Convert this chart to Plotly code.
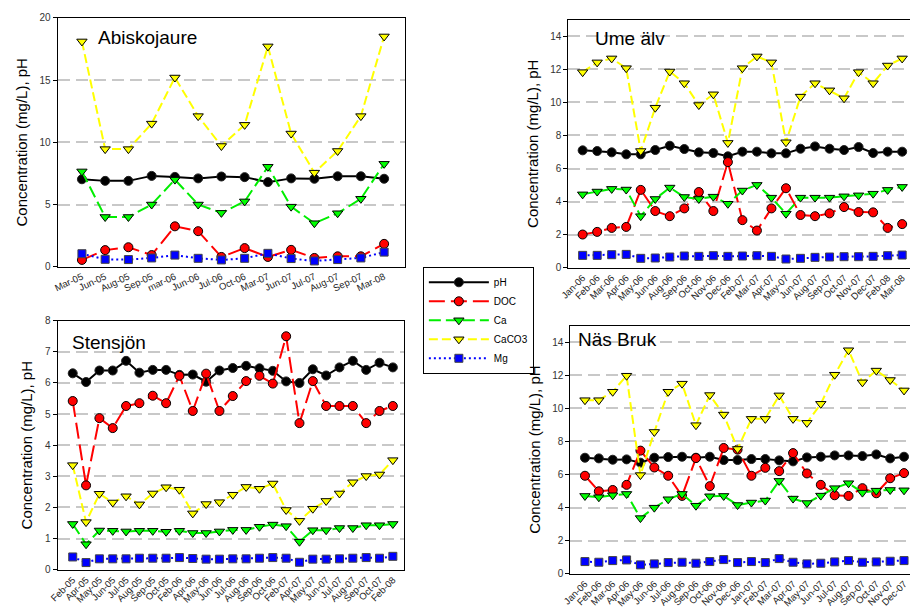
import plotly.graph_objects as go

# ---------------- DATA ----------------
abisko_dates = ["Mar-05", "Jun-05", "Aug-05", "Sep-05", "mar-06", "Jun-06", "Jul-06",
                "Oct-06", "Mar-07", "Jun-07", "Jul-07", "Aug-07", "Sep-07", "Mar-08"]
abisko_pH = [7.03, 6.9, 6.9, 7.3, 7.22, 7.1, 7.25, 7.2, 6.8, 7.1, 7.07, 7.27, 7.27, 7.07]
abisko_DOC = [0.55, 1.34, 1.57, 0.94, 3.25, 2.86, 0.79, 1.5, 0.79, 1.36, 0.71, 0.84, 0.84, 1.84]
abisko_Ca = [7.66, 4.0, 4.0, 5.0, 7.0, 5.0, 4.33, 5.25, 8.03, 4.83, 3.5, 4.3, 5.46, 8.27]
abisko_CaCO3 = [18.1, 9.45, 9.45, 11.5, 15.2, 12.1, 9.7, 11.4, 17.7, 10.7, 7.56, 9.3, 12.1, 18.5]
abisko_Mg = [1.05, 0.6, 0.58, 0.71, 0.94, 0.68, 0.55, 0.68, 1.08, 0.66, 0.47, 0.58, 0.71, 1.18]

ume_dates = ["Jan-06", "Feb-06", "Mar-06", "Apr-06", "May-06", "Jun-06", "Aug-06", "Sep-06",
             "Oct-06", "Nov-06", "Dec-06", "Feb-07", "Mar-07", "Apr-07", "May-07", "Jun-07",
             "Aug-07", "Sep-07", "Oct-07", "Nov-07", "Dec-07", "Feb-08", "Mar-08"]
ume_pH = [7.1, 7.06, 6.98, 6.86, 6.86, 7.12, 7.38, 7.18, 6.98, 6.94, 6.74, 7.02, 7.02, 6.92,
          6.92, 7.2, 7.34, 7.2, 7.12, 7.3, 6.94, 7.02, 7.02]
ume_DOC = [2.01, 2.17, 2.41, 2.47, 4.71, 3.43, 3.12, 3.59, 4.58, 3.43, 6.39, 2.88, 2.25, 3.59,
           4.81, 3.19, 3.12, 3.29, 3.67, 3.37, 3.35, 2.41, 2.64]
ume_Ca = [4.44, 4.61, 4.77, 4.73, 3.12, 4.16, 4.85, 4.28, 4.16, 4.3, 3.87, 4.67, 5.01, 4.24,
          3.27, 4.24, 4.24, 4.24, 4.32, 4.38, 4.48, 4.71, 4.89]
ume_CaCO3 = [11.83, 12.42, 12.66, 12.07, 7.06, 9.68, 11.87, 11.16, 9.84, 10.49, 7.55, 12.07,
             12.78, 12.42, 7.59, 10.35, 11.16, 10.73, 10.25, 11.83, 11.16, 12.23, 12.66]
ume_Mg = [0.75, 0.75, 0.79, 0.81, 0.57, 0.59, 0.65, 0.71, 0.69, 0.73, 0.69, 0.71, 0.73, 0.69,
          0.53, 0.57, 0.63, 0.65, 0.67, 0.67, 0.69, 0.73, 0.77]

sten_dates = ["Feb-05", "Apr-05", "May-05", "Jun-05", "Jul-05", "Aug-05", "Sep-05", "Oct-05",
              "Feb-06", "Apr-06", "May-06", "Jun-06", "Jul-06", "Aug-06", "Sep-06", "Oct-06",
              "Feb-07", "Apr-07", "May-07", "Jun-07", "Jul-07", "Aug-07", "Sep-07", "Oct-07",
              "Feb-08"]
sten_pH = [6.31, 6.03, 6.4, 6.4, 6.71, 6.33, 6.42, 6.42, 6.26, 6.27, 6.04, 6.4, 6.48, 6.55,
           6.47, 6.39, 6.05, 6.0, 6.44, 6.24, 6.5, 6.71, 6.42, 6.65, 6.5]
sten_DOC = [5.42, 2.71, 4.87, 4.55, 5.26, 5.35, 5.59, 5.35, 6.23, 5.1, 6.3, 5.1, 5.58, 6.06,
            6.23, 5.98, 7.5, 4.71, 6.06, 5.26, 5.26, 5.26, 4.71, 5.1, 5.26]
sten_Ca = [1.47, 0.82, 1.26, 1.25, 1.23, 1.25, 1.25, 1.22, 1.25, 1.18, 1.18, 1.23, 1.28, 1.28,
           1.38, 1.45, 1.4, 0.9, 1.27, 1.27, 1.34, 1.34, 1.43, 1.43, 1.47]
sten_CaCO3 = [3.36, 1.53, 2.44, 2.16, 2.36, 2.1, 2.45, 2.65, 2.57, 1.81, 2.11, 2.17, 2.41, 2.66,
              2.6, 2.77, 1.92, 1.57, 1.96, 2.21, 2.45, 2.81, 3.01, 3.06, 3.52]
sten_Mg = [0.41, 0.23, 0.35, 0.35, 0.35, 0.37, 0.37, 0.37, 0.39, 0.36, 0.34, 0.34, 0.35, 0.35,
           0.37, 0.39, 0.37, 0.24, 0.34, 0.34, 0.35, 0.37, 0.39, 0.37, 0.43]

nas_dates = ["Jan-06", "Feb-06", "Mar-06", "Apr-06", "May-06", "Jun-06", "Jul-06", "Aug-06",
             "Sep-06", "Oct-06", "Nov-06", "Dec-06", "Jan-07", "Feb-07", "Mar-07", "Apr-07",
             "May-07", "Jun-07", "Jul-07", "Aug-07", "Sep-07", "Oct-07", "Nov-07", "Dec-07"]
nas_pH = [7.01, 6.97, 6.89, 6.91, 6.71, 7.01, 7.05, 7.07, 7.01, 7.07, 6.87, 6.87, 6.93, 6.93,
          6.85, 6.79, 7.03, 7.07, 7.15, 7.15, 7.11, 7.21, 6.97, 7.07]
nas_DOC = [5.92, 4.98, 5.06, 5.37, 7.44, 6.42, 5.92, 4.7, 6.99, 5.29, 7.6, 7.5, 5.92, 6.4,
           6.2, 7.29, 6.06, 5.37, 4.74, 4.7, 5.17, 4.86, 5.77, 6.08]
nas_Ca = [4.7, 4.62, 4.74, 4.82, 3.36, 3.99, 4.5, 4.82, 4.11, 4.68, 4.7, 4.15, 4.3, 4.42,
          5.61, 4.54, 4.27, 4.72, 5.17, 5.47, 4.9, 5.02, 5.06, 5.04]
nas_CaCO3 = [10.49, 10.49, 11.0, 11.97, 5.96, 8.57, 11.0, 11.49, 8.98, 10.8, 9.62, 7.54, 9.36,
             9.36, 10.78, 9.36, 9.12, 10.27, 12.03, 13.51, 11.57, 12.28, 11.71, 11.08]
nas_Mg = [0.73, 0.69, 0.79, 0.83, 0.53, 0.59, 0.67, 0.69, 0.63, 0.73, 0.85, 0.67, 0.73, 0.67,
          0.91, 0.69, 0.59, 0.63, 0.71, 0.79, 0.69, 0.71, 0.75, 0.79]

series_names = ["pH", "DOC", "Ca", "CaCO3", "Mg"]

# ---------------- STYLE ----------------
W, H = 910, 612
FONT = "Liberation Sans, Arial, sans-serif"
styles = {
    "pH":    dict(line=dict(color="black", width=2, dash="solid"),
                  marker=dict(symbol="circle", size=9, color="black", line=dict(color="#222", width=1))),
    "DOC":   dict(line=dict(color="#ff0000", width=2, dash="16px,6px"),
                  marker=dict(symbol="circle", size=9, color="#ff0000", line=dict(color="black", width=1))),
    "Ca":    dict(line=dict(color="#00ee00", width=2, dash="12px,5px"),
                  marker=dict(symbol="triangle-down", size=9, color="#00ff00", line=dict(color="black", width=1))),
    "CaCO3": dict(line=dict(color="#ffff00", width=2, dash="9px,4px"),
                  marker=dict(symbol="triangle-down", size=9, color="#ffff00", line=dict(color="black", width=1))),
    "Mg":    dict(line=dict(color="#0000ff", width=2, dash="2px,3px"),
                  marker=dict(symbol="square", size=8, color="#0000ff", line=dict(color="#444", width=1))),
}

def px_x(a, b):
    return [a / W, b / W]

def px_y(top, bottom):
    return [1 - bottom / H, 1 - top / H]

panels = [
    dict(title="Abiskojaure", dates=abisko_dates,
         data=[abisko_pH, abisko_DOC, abisko_Ca, abisko_CaCO3, abisko_Mg],
         xd=px_x(49, 400), yd=px_y(12, 266), yr=[0, 20], dtick=5, xr=[-1.05, 13.9], angle=-25,
         tx=88, ty=32, right=True),
    dict(title="Ume älv", dates=ume_dates,
         data=[ume_pH, ume_DOC, ume_Ca, ume_CaCO3, ume_Mg],
         xd=px_x(565, 910), yd=px_y(14, 267), yr=[0, 15], dtick=2, xr=[-0.98, 22.54], angle=-45,
         tx=590, ty=33, right=False),
    dict(title="Stensjön", dates=sten_dates,
         data=[sten_pH, sten_DOC, sten_Ca, sten_CaCO3, sten_Mg],
         xd=px_x(49, 399), yd=px_y(321, 575), yr=[0, 8], dtick=1, xr=[-1.14, 24.84], angle=-45,
         tx=62, ty=343, right=True),
    dict(title="Näs Bruk", dates=nas_dates,
         data=[nas_pH, nas_DOC, nas_Ca, nas_CaCO3, nas_Mg],
         xd=px_x(567, 910), yd=px_y(326, 579), yr=[0, 15], dtick=2, xr=[-1.05, 23.43], angle=-45,
         tx=573, ty=340, right=False),
]

fig = go.Figure()
layout = dict(
    width=W, height=H, margin=dict(l=0, r=0, t=0, b=0),
    paper_bgcolor="white", plot_bgcolor="white",
    font=dict(family=FONT, color="black"),
    showlegend=True,
    legend=dict(x=418 / W, y=1 - 266 / H, xanchor="left", yanchor="top",
                bordercolor="black", borderwidth=1, bgcolor="white",
                font=dict(size=10, family=FONT), itemwidth=60,
                tracegroupgap=0),
    annotations=[],
)

for i, p in enumerate(panels):
    n = "" if i == 0 else str(i + 1)
    xa, ya = "x" + n, "y" + n
    for j, name in enumerate(series_names):
        st = styles[name]
        fig.add_trace(go.Scatter(
            x=p["dates"], y=p["data"][j], name=name, mode="lines+markers",
            line=st["line"], marker=st["marker"], xaxis=xa, yaxis=ya,
            showlegend=(i == 0), legendgroup=name, cliponaxis=False))
    layout["xaxis" + n] = dict(
        domain=p["xd"], anchor=ya, type="category", categoryorder="array",
        categoryarray=p["dates"], range=p["xr"], tickangle=p["angle"],
        tickfont=dict(size=9.5, color="#222"), showline=True, linecolor="black",
        linewidth=1, mirror=True, showgrid=False, ticks="", zeroline=False)
    layout["yaxis" + n] = dict(
        domain=p["yd"], anchor=xa, range=p["yr"], dtick=p["dtick"], tick0=0,
        tickfont=dict(size=10, color="#333"), showline=True, linecolor="black",
        linewidth=1, mirror=p["right"], ticks="outside", ticklen=4, tickcolor="black",
        showgrid=True, gridcolor="#c8c8c8", gridwidth=1.5, griddash="12px,6px",
        zeroline=False,
        title=dict(text="Concentration (mg/L), pH", font=dict(size=15, family=FONT), standoff=8))
    layout["annotations"].append(dict(
        text=p["title"], xref="paper", yref="paper", x=p["tx"] / W, y=1 - p["ty"] / H,
        xanchor="left", yanchor="middle", showarrow=False,
        font=dict(size=19, family=FONT, color="black")))

fig.update_layout(**layout)
fig.write_html("out.html")
